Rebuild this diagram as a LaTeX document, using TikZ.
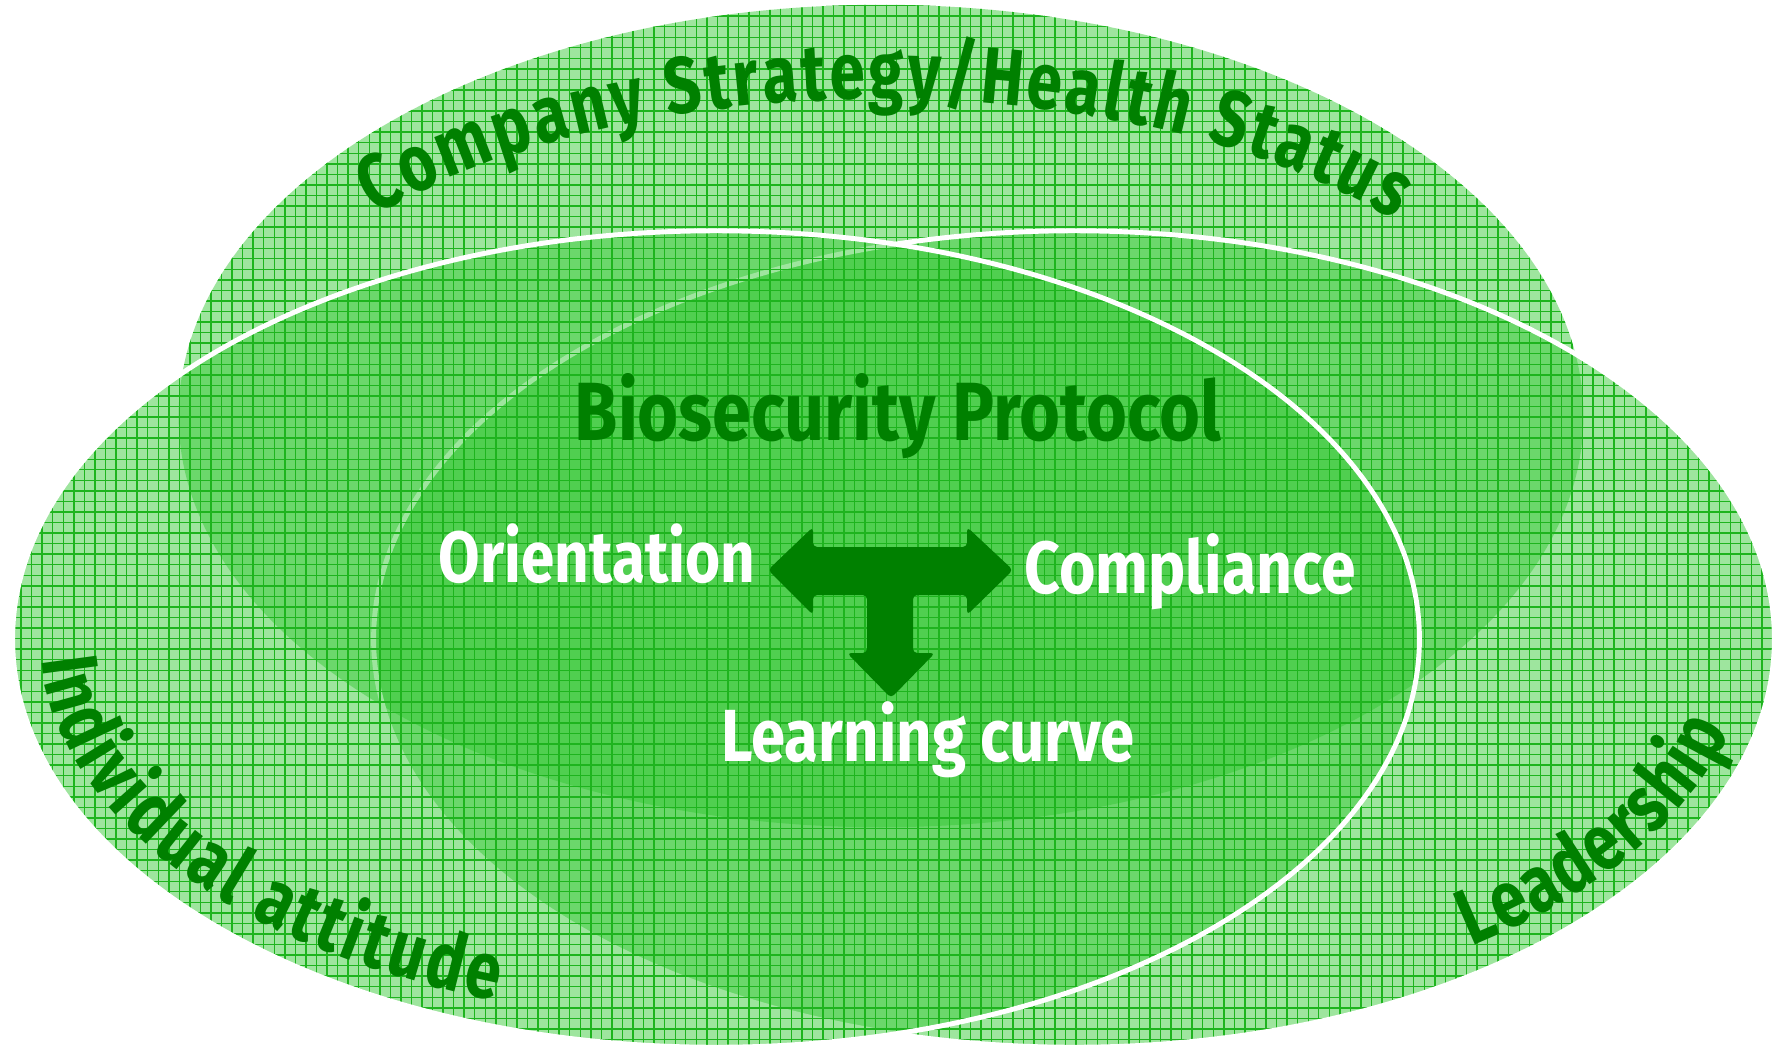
\documentclass[tikz,border=0pt]{standalone}
\usepackage{fontspec}
\usepackage{graphicx}
\usetikzlibrary{patterns,decorations.text}
\newfontfamily\cf[FakeStretch=0.8]{Fira Sans}
\newfontfamily\cfs{Fira Sans}
\definecolor{dg}{RGB}{0,128,0}
\definecolor{ellc}{RGB}{50,200,50}
\definecolor{gridc}{RGB}{30,180,30}
\begin{document}
\begin{tikzpicture}[x=0.01cm,y=0.01cm,
  ellfill/.style={fill=ellc, fill opacity=0.47},
  ellgrid/.style={pattern=grid, pattern color=gridc, fill opacity=0.13},
  rim/.style={draw=white, line width=1.4pt},
  arctext/.style={decorate, decoration={text along path, text align=fit to path,
     text={|\cf\bfseries\fontsize{22.7}{27}\selectfont\color{dg}|#1}}},
  inlabel/.style={anchor=base, inner sep=0pt, text=white}
]
\useasboundingbox (0,0) rectangle (1776,1050);
\fill[white] (0,0) rectangle (1776,1050);

% top ellipse (Company strategy)
\fill[ellfill] (881,634) ellipse [x radius=7.02cm, y radius=4.11cm];
\fill[ellgrid] (881,634) ellipse [x radius=7.02cm, y radius=4.11cm];
% right ellipse (Leadership)
\fill[ellfill] (1074,411) ellipse [x radius=7.00cm, y radius=4.08cm];
\fill[ellgrid] (1074,411) ellipse [x radius=7.00cm, y radius=4.08cm];
\draw[rim] (1074,411) ellipse [x radius=7.00cm, y radius=4.08cm];
% left ellipse (Individual attitude)
\fill[ellfill] (716,411) ellipse [x radius=7.03cm, y radius=4.08cm];
\fill[ellgrid] (716,411) ellipse [x radius=7.03cm, y radius=4.08cm];
\draw[rim] (716,411) ellipse [x radius=7.03cm, y radius=4.08cm];

% curved labels
\path[arctext={Company Strategy/Health Status}]
  (881,636) ++(141:6.50cm and 3.15cm)
  arc [start angle=141, end angle=38, x radius=6.50cm, y radius=3.15cm];
\path[arctext={Individual attitude}]
  (716,411) ++(183:6.75cm and 3.82cm)
  arc [start angle=183, end angle=251, x radius=6.75cm, y radius=3.82cm];
\path[arctext={Leadership}]
  (1074,411) ++(306:6.75cm and 3.80cm)
  arc [start angle=306, end angle=346, x radius=6.75cm, y radius=3.80cm];

% inner labels
\node[inlabel, text=dg] (bio) at (898,610)
  {\resizebox{183.8pt}{\height}{\cfs\bfseries\fontsize{23.5}{28}\selectfont Biosecurity Protocol}};
\node[inlabel] (ori) at (597,468)
  {\resizebox{89.9pt}{\height}{\cfs\bfseries\fontsize{20.6}{25}\selectfont Orientation}};
\node[inlabel] (comp) at (1190,457)
  {\resizebox{94.2pt}{\height}{\cfs\bfseries\fontsize{21}{25}\selectfont Compliance}};
\node[inlabel] (learn) at (928,289)
  {\resizebox{117.5pt}{\height}{\cfs\bfseries\fontsize{21}{25}\selectfont Learning curve}};

% T-shaped arrow
\fill[dg, rounded corners=1.2pt]
  (768,480) -- (813,523) -- (813,503) -- (967,503) -- (967,523) -- (1013,480)
  -- (967,435) -- (967,455) -- (913,455) -- (913,397) -- (935,397) -- (891,352)
  -- (847,397) -- (867,397) -- (867,455) -- (813,455) -- (813,435) -- cycle;
\end{tikzpicture}
\end{document}
